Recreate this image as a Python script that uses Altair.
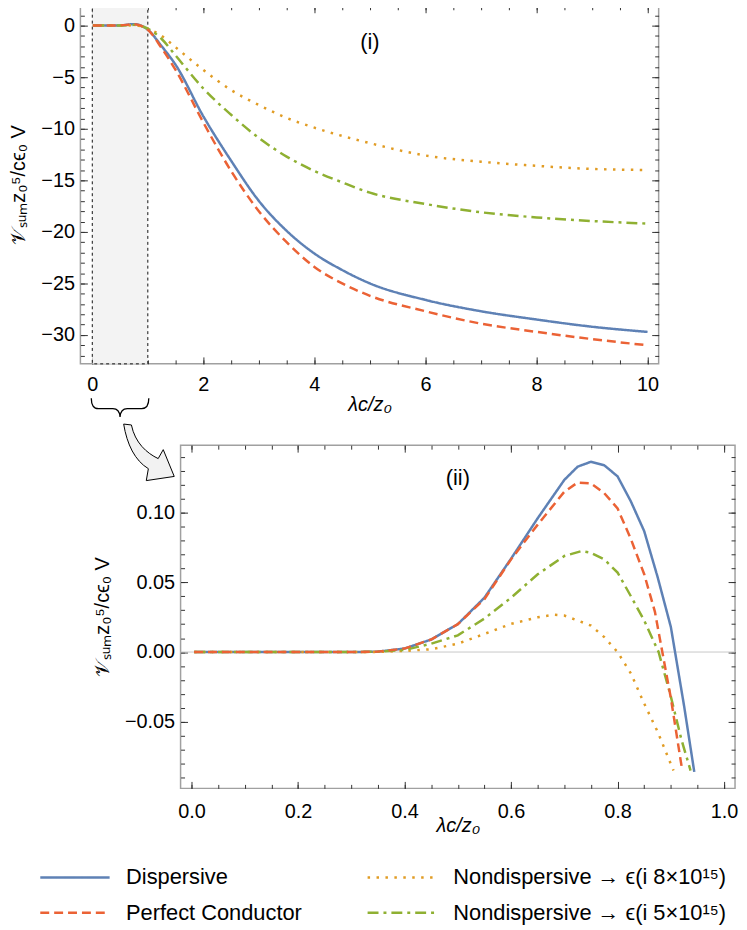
import altair as alt
import pandas as pd

# ---------------- data ----------------
# legend fills column by column: Dispersive / Perfect Conductor, then the two nondispersive curves
SERIES = ["Dispersive", "Perfect Conductor", "Nondispersive → ϵ(i 8×10¹⁵)", "Nondispersive → ϵ(i 5×10¹⁵)"]
COLORS = ["#5E81B5", "#EB6235", "#E19C24", "#8FB032"]
DASHES = [[1, 0], [9, 5], [2.5, 6.5], [11, 5, 3, 5]]

# panel (i): lambda_c / z0 from 0 to 10
top_x = [0.01, 0.25, 0.5, 0.75, 1.0, 1.25, 1.5, 2.0, 2.5, 3.0, 3.5, 4.0, 4.5, 5.0, 6.0, 7.0, 8.0, 9.0, 10.0]
top_disp = [0.0, 0.0, 0.02, 0.14, -0.4, -2.0, -3.8, -8.8, -13.1, -17.0, -19.9, -22.1, -23.7, -25.0, -26.6, -27.7, -28.5, -29.2, -29.7]
top_pc = [0.0, 0.0, 0.02, 0.12, -0.4, -2.2, -4.3, -9.4, -14.1, -18.0, -21.0, -23.4, -25.0, -26.2, -27.7, -28.9, -29.7, -30.4, -31.0]
top_nd8 = [0.0, 0.0, 0.005, 0.025, -0.3, -1.0, -2.1, -4.3, -6.25, -7.7, -8.95, -9.9, -10.7, -11.4, -12.6, -13.2, -13.6, -13.9, -14.0]
top_nd5 = [0.0, 0.0, 0.01, 0.07, -0.3, -1.3, -2.9, -6.1, -8.65, -10.9, -12.7, -14.1, -15.2, -16.2, -17.3, -18.1, -18.6, -18.95, -19.2]

# panel (ii): zoom on 0 <= lambda_c / z0 <= 1
bot_disp_x = [0.005, 0.1, 0.2, 0.3, 0.35, 0.4, 0.45, 0.5, 0.55, 0.6, 0.65, 0.7, 0.725, 0.75, 0.775, 0.8, 0.825, 0.85, 0.875, 0.9, 0.925, 0.944]
bot_disp_y = [0.0, 0.0, 0.0, 0.0, 0.0003, 0.0025, 0.009, 0.020, 0.039, 0.067, 0.096, 0.1235, 0.133, 0.1365, 0.134, 0.126, 0.108, 0.0867, 0.054, 0.018, -0.039, -0.086]
bot_pc_x = [0.005, 0.1, 0.2, 0.3, 0.35, 0.4, 0.45, 0.5, 0.55, 0.6, 0.65, 0.7, 0.725, 0.75, 0.775, 0.8, 0.825, 0.85, 0.87, 0.884, 0.9, 0.921]
bot_pc_y = [0.0, 0.0, 0.0, 0.0, 0.0003, 0.0025, 0.009, 0.020, 0.038, 0.0665, 0.0914, 0.115, 0.1216, 0.121, 0.114, 0.103, 0.081, 0.0558, 0.029, 0.0, -0.033, -0.084]
bot_nd8_x = [0.005, 0.1, 0.2, 0.3, 0.35, 0.4, 0.45, 0.5, 0.55, 0.6, 0.65, 0.68, 0.7, 0.75, 0.775, 0.8, 0.825, 0.85, 0.875, 0.905]
bot_nd8_y = [0.0, 0.0, 0.0, 0.0, 0.0001, 0.0008, 0.002, 0.006, 0.013, 0.0202, 0.0249, 0.0268, 0.0262, 0.019, 0.0107, 0.0, -0.0154, -0.037, -0.057, -0.085]
bot_nd5_x = [0.005, 0.1, 0.2, 0.3, 0.35, 0.4, 0.45, 0.5, 0.55, 0.6, 0.65, 0.7, 0.732, 0.75, 0.775, 0.8, 0.825, 0.85, 0.877, 0.9, 0.92, 0.937]
bot_nd5_y = [0.0, 0.0, 0.0, 0.0, 0.0002, 0.0015, 0.006, 0.012, 0.024, 0.039, 0.0558, 0.0689, 0.0724, 0.0712, 0.0665, 0.057, 0.040, 0.0226, 0.0, -0.032, -0.063, -0.085]

# tick values
top_x_major = [0, 2, 4, 6, 8, 10]
top_x_minor = [i * 0.5 for i in range(0, 21)]
top_y_major = [0, -5, -10, -15, -20, -25, -30]
top_y_minor = list(range(1, -33, -1))
bot_x_major = [0.0, 0.2, 0.4, 0.6, 0.8, 1.0]
bot_x_minor = [round(i * 0.05, 2) for i in range(0, 21)]
bot_y_major = [-0.05, 0.0, 0.05, 0.10]
bot_y_minor = [round(i * 0.01, 2) for i in range(-9, 15)]

zoom_region = [0.0, 1.0]

YTITLE = "𝒱ₛᵤₘz₀⁵/cϵ₀ V"
XTITLE = "λc/z₀"
FONT = "Liberation Sans"

# ---------------- build tables ----------------
def long_table(xs_list, ys_list):
    rows = []
    for k, (xs, ys) in enumerate(zip(xs_list, ys_list)):
        for x, y in zip(xs, ys):
            rows.append({"x": x, "y": y, "series": SERIES[k], "k": k})
    return pd.DataFrame(rows)

top_df = long_table([top_x] * 4, [top_disp, top_pc, top_nd8, top_nd5])
bot_df = long_table([bot_disp_x, bot_pc_x, bot_nd8_x, bot_nd5_x],
                    [bot_disp_y, bot_pc_y, bot_nd8_y, bot_nd5_y])

cscale = alt.Scale(domain=SERIES, range=COLORS)
dscale = alt.Scale(domain=SERIES, range=DASHES)


def label_axis(orient, values, fmt, lab_pad, title_pad):
    kw = dict(orient=orient, values=values, domain=False, grid=False, ticks=False,
              format=fmt, labelFont=FONT, labelFontSize=20, labelColor="black",
              labelPadding=lab_pad, title=XTITLE if orient == "bottom" else YTITLE,
              titleFont=FONT, titleFontSize=20, titleFontWeight="normal", titleColor="black",
              titlePadding=title_pad)
    if orient == "bottom":
        kw.update(titleFontStyle="italic")
    return alt.Axis(**kw)


def tick_axis(orient, values, size):
    # ticks drawn inward: the tick-only axis is moved into the frame by its own length
    return alt.Axis(orient=orient, values=values, domain=False, grid=False, labels=False,
                    title=None, tickSize=size, offset=-size, tickColor="#333333", tickWidth=1)


def axis_sets(xmaj, xmin, ymaj, ymin, xfmt, yfmt, xlab_pad, xtitle_pad):
    return [
        (label_axis("bottom", xmaj, xfmt, xlab_pad, xtitle_pad), label_axis("left", ymaj, yfmt, 6, 12)),
        (tick_axis("bottom", xmaj, 7), tick_axis("left", ymaj, 7)),
        (tick_axis("bottom", xmin, 4), tick_axis("left", ymin, 4)),
        (tick_axis("top", xmaj, 7), tick_axis("right", ymaj, 7)),
        (tick_axis("top", xmin, 4), tick_axis("right", ymin, 4)),
    ]


def line_layers(df, xs, ys, axes, legend, interp):
    order = [0, 2, 3, 1]  # draw blue, orange, green, red
    layers = []
    for i, k in enumerate(order):
        xa, ya = axes[i]
        layers.append(
            alt.Chart(df).transform_filter(alt.datum.k == k)
            .mark_line(strokeWidth=2.5, clip=True, interpolate=interp)
            .encode(
                x=alt.X("x:Q", scale=xs, axis=xa),
                y=alt.Y("y:Q", scale=ys, axis=ya),
                color=alt.Color("series:N", scale=cscale, legend=legend),
                strokeDash=alt.StrokeDash("series:N", scale=dscale, legend=legend),
            )
        )
    return layers


# long flat line symbol: a short symbol box (keeps rows compact) with a path reaching beyond it
legend = alt.Legend(
    orient="none", legendX=-22, legendY=862, columns=2, title=None, padding=0,
    symbolType="M-2.33,0L2.33,0", symbolSize=900, symbolStrokeWidth=2.5,
    labelFont=FONT, labelFontSize=22, labelColor="black", labelOffset=35, labelLimit=500,
    columnPadding=60, rowPadding=8,
)

# ---------------- panel (i) ----------------
TW, TH = 583, 361
xs_top = alt.Scale(domain=[-0.214, 10.2], nice=False, zero=False)
ys_top = alt.Scale(domain=[-32.8, 1.92], nice=False, zero=False)
top_axes = axis_sets(top_x_major, top_x_minor, top_y_major, top_y_minor, "d", "d", 11, 0)

rect = alt.Chart(pd.DataFrame({"x0": [zoom_region[0]], "x1": [zoom_region[1]]})).mark_rect(
    fill="#f3f3f3", stroke="#111111", strokeDash=[3, 3], strokeWidth=1
).encode(x=alt.X("x0:Q", scale=xs_top, axis=None), x2="x1:Q", y=alt.value(0), y2=alt.value(TH))

label_i = alt.Chart(pd.DataFrame({"x": [5.0], "y": [-1.55], "t": ["(i)"]})).mark_text(
    font=FONT, fontSize=22, color="black"
).encode(x=alt.X("x:Q", scale=xs_top, axis=top_axes[4][0]),
         y=alt.Y("y:Q", scale=ys_top, axis=top_axes[4][1]), text="t:N")

BRACE = ("M-1,-0.31 Q-1,0.05 -0.75,0.05 L-0.25,0.05 Q-0.02,0.05 0,0.34 "
         "Q0.02,0.05 0.25,0.05 L0.75,0.05 Q1,0.05 1,-0.31")
brace = alt.Chart(pd.DataFrame({"x": [0.5], "y": [-37.0]})).mark_point(
    shape=BRACE, size=3364, stroke="black", strokeWidth=1.3, filled=False, opacity=1
).encode(x=alt.X("x:Q", scale=xs_top, axis=None), y=alt.Y("y:Q", scale=ys_top, axis=None))

top = alt.layer(
    rect,
    *line_layers(top_df, xs_top, ys_top, top_axes, legend, "monotone"),
    label_i, brace,
).resolve_axis(x="independent", y="independent").properties(width=TW, height=TH)

# ---------------- panel (ii) ----------------
BW, BH = 559, 346
xs_bot = alt.Scale(domain=[-0.0205, 1.0205], nice=False, zero=False)
ys_bot = alt.Scale(domain=[-0.0978, 0.1484], nice=False, zero=False)
bot_axes = axis_sets(bot_x_major, bot_x_minor, bot_y_major, bot_y_minor, ".1f", ".2f", 13, -6)

zero = alt.Chart(pd.DataFrame({"z": [0.0]})).mark_rule(color="#c8c8c8", strokeWidth=1).encode(
    y=alt.Y("z:Q", scale=ys_bot, axis=None))

label_ii = alt.Chart(pd.DataFrame({"x": [0.5], "y": [0.125], "t": ["(ii)"]})).mark_text(
    font=FONT, fontSize=22, color="black"
).encode(x=alt.X("x:Q", scale=xs_bot, axis=bot_axes[4][0]),
         y=alt.Y("y:Q", scale=ys_bot, axis=bot_axes[4][1]), text="t:N")

ARROW = ("M-0.83,-0.93 C-0.72,-0.25 -0.45,0.3 0,0.57 L-0.07,0.97 L0.87,0.83 L0.5,-0.07 "
         "L0.33,0.23 C-0.05,0.05 -0.45,-0.3 -0.57,-0.9 Z")
arrow = alt.Chart(pd.DataFrame({"x": [-0.081], "y": [0.1437]})).mark_point(
    shape=ARROW, size=3600, filled=True, fill="#f2f2f2", stroke="black", strokeWidth=1, opacity=1
).encode(x=alt.X("x:Q", scale=xs_bot, axis=None), y=alt.Y("y:Q", scale=ys_bot, axis=None))

bottom = alt.layer(
    zero,
    *line_layers(bot_df, xs_bot, ys_bot, bot_axes, legend, "linear"),
    label_ii, arrow,
).resolve_axis(x="independent", y="independent").properties(width=BW, height=BH)

spacer = alt.Chart(pd.DataFrame({"a": [0]})).mark_point(opacity=0).properties(
    width=101, height=10, view=alt.ViewBackground(stroke="transparent"))

chart = alt.vconcat(
    top,
    alt.hconcat(spacer, bottom, spacing=0, bounds="flush"),
    spacing=82, bounds="flush",
).properties(
    padding={"left": 0, "top": -8, "right": 0, "bottom": 0},
    background="white",
).configure_view(stroke="#a0a0a0", strokeWidth=1.5)

chart.save("out.html", embed_options={"renderer": "svg", "actions": False})
